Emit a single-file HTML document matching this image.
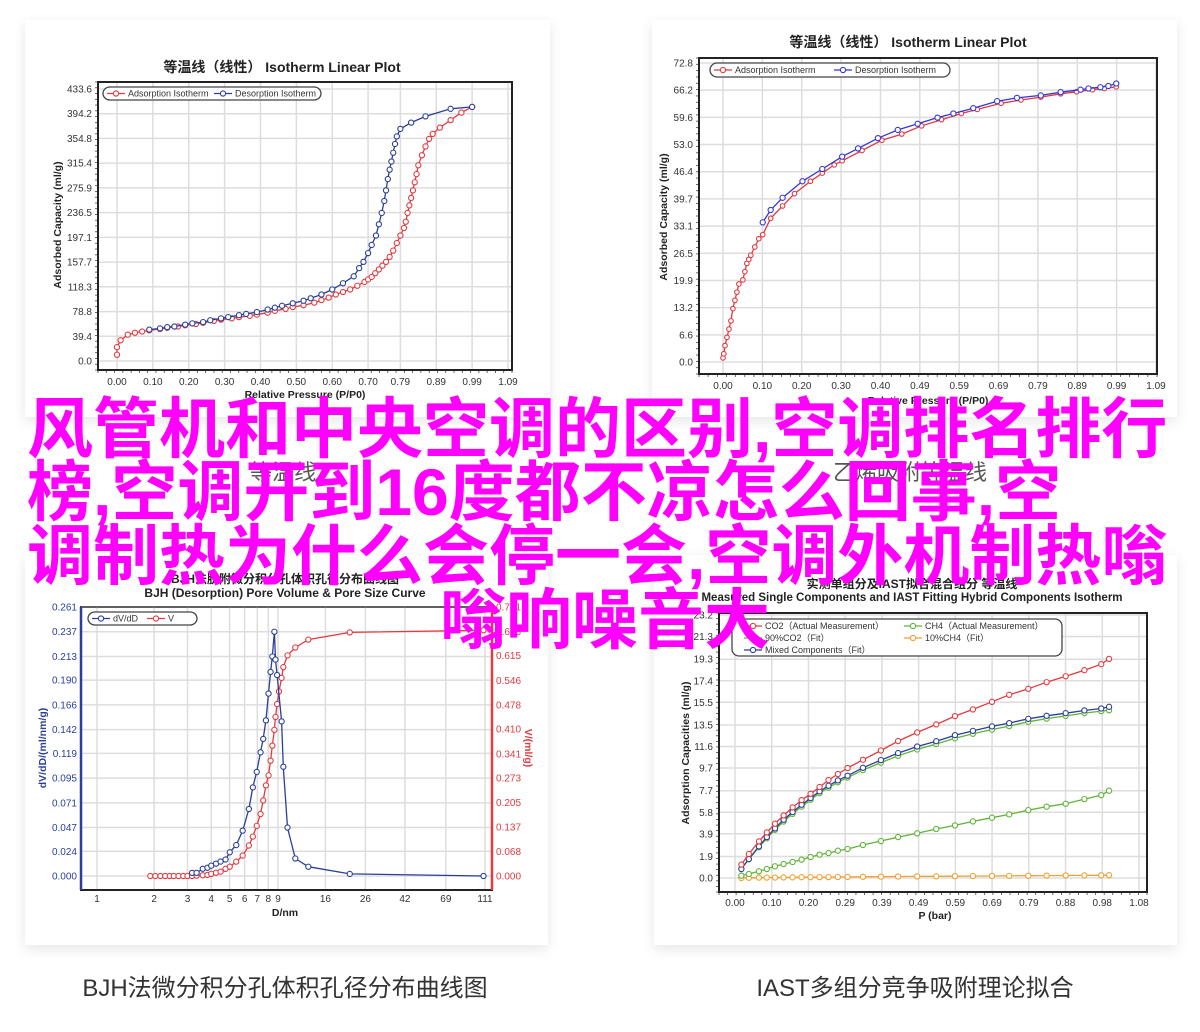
<!DOCTYPE html>
<html><head><meta charset="utf-8">
<style>
html,body{margin:0;padding:0;background:#fff;}
body{width:1200px;height:1032px;position:relative;overflow:hidden;font-family:"Liberation Sans","Noto Sans CJK SC",sans-serif;}
.card{position:absolute;background:#fff;box-shadow:0 4px 12px rgba(0,0,0,0.10);}
.cap{position:absolute;font-size:24px;color:#333;text-align:center;font-family:"Liberation Sans","Noto Sans CJK SC",sans-serif;white-space:nowrap;}
.mag{position:absolute;font-size:66px;line-height:66px;font-weight:bold;color:#ff00ff;white-space:nowrap;font-family:"Liberation Sans","Noto Sans CJK SC",sans-serif;}
svg{position:absolute;left:0;top:0;}
</style></head>
<body>
<div class="card" style="left:25px;top:20px;width:525px;height:397px;"></div>
<div class="card" style="left:652px;top:20px;width:525px;height:397px;"></div>
<div class="card" style="left:25px;top:555px;width:523px;height:390px;"></div>
<div class="card" style="left:654px;top:555px;width:523px;height:390px;"></div>
<div class="cap" style="left:133px;top:455px;width:300px;color:#555;font-size:22px;">等温线</div>
<div class="cap" style="left:760px;top:455px;width:300px;color:#555;font-size:22px;">乙烯吸附等温线</div>
<div class="cap" style="left:60px;top:968px;width:450px;">BJH法微分积分孔体积孔径分布曲线图</div>
<div class="cap" style="left:690px;top:968px;width:450px;">IAST多组分竞争吸附理论拟合</div>

<svg id="chart" width="1200" height="1032"></svg>

<div class="mag" style="left:27px;top:396px;">风管机和中央空调的区别,空调排名排行</div>
<div class="mag" style="left:27px;top:459px;">榜,空调开到16度都不凉怎么回事,空</div>
<div class="mag" style="left:27px;top:523px;">调制热为什么会停一会,空调外机制热嗡</div>
<div class="mag" style="left:440px;top:587px;">嗡响噪音大</div>

<script>
// ---- Chart A: isotherm linear plot (left) ----
const aXTicks=['0.00','0.10','0.20','0.30','0.40','0.50','0.60','0.70','0.79','0.89','0.99','1.09'];
const aYTicks=['0.0','39.4','78.8','118.3','157.7','197.1','236.5','275.9','315.4','354.8','394.2','433.6'];
const aAdsP=[0,0,0.01,0.03,0.05,0.07,0.09,0.12,0.14,0.17,0.19,0.22,0.24,0.27,0.29,0.32,0.34,0.37,0.39,0.42,0.44,0.47,0.49,0.52,0.55,0.57,0.59,0.61,0.63,0.65,0.67,0.69,0.70,0.71,0.72,0.73,0.74,0.75,0.76,0.77,0.78,0.79,0.80,0.805,0.81,0.815,0.82,0.825,0.83,0.835,0.84,0.85,0.86,0.87,0.88,0.90,0.93,0.96,0.99];
const aAdsV=[10,22,33,42,45,47,49,51,53,55,57,59,61,64,66,68,70,72,74,77,80,83,86,89,93,97,101,106,110,114,120,126,130,134,140,146,152,158,166,176,188,200,212,222,236,248,260,272,285,298,312,328,342,354,362,372,384,396,405];
const aDesP=[0.09,0.12,0.14,0.16,0.19,0.21,0.24,0.26,0.29,0.31,0.34,0.36,0.39,0.42,0.44,0.46,0.49,0.52,0.54,0.57,0.60,0.63,0.66,0.675,0.687,0.70,0.71,0.722,0.73,0.738,0.745,0.75,0.755,0.76,0.765,0.77,0.775,0.78,0.79,0.82,0.86,0.93,0.99];
const aDesV=[50,52,54,55,58,60,62,65,68,70,73,75,78,82,85,88,92,96,100,106,114,124,135,148,158,172,185,200,218,236,255,272,290,305,318,332,346,358,370,380,390,402,405];

// ---- Chart B: isotherm linear plot (right) ----
const bXTicks=['0.00','0.10','0.20','0.30','0.40','0.49','0.59','0.69','0.79','0.89','0.99','1.09'];
const bYTicks=['0.0','6.6','13.2','19.9','26.5','33.1','39.7','46.4','53.0','59.6','66.2','72.8'];
const bAdsP=[0,0.002,0.005,0.01,0.015,0.02,0.025,0.03,0.035,0.04,0.05,0.055,0.06,0.065,0.07,0.08,0.09,0.10,0.12,0.15,0.18,0.22,0.25,0.28,0.30,0.35,0.40,0.45,0.50,0.55,0.60,0.64,0.70,0.75,0.80,0.85,0.89,0.93,0.96,0.99];
const bAdsV=[1,2,4,6,8,10,13,15,17,19,20,22,24,25,26,28,30,31,35,38,41,44,46,48,49,51.5,54,55.5,57.5,59,60.5,61.5,63,63.8,64.5,65.3,65.8,66.3,66.6,67];
const bDesP=[0.10,0.12,0.15,0.20,0.25,0.30,0.34,0.39,0.44,0.49,0.54,0.58,0.63,0.69,0.74,0.80,0.85,0.90,0.92,0.95,0.97,0.99];
const bDesV=[34,37,40,44,47,50,52,54.5,56.5,58,59.5,60.5,61.8,63.5,64.3,64.9,65.7,66.3,66.6,66.9,67.2,67.8];

// ---- Chart C: BJH pore size (log x) ----
const cXTicks=[1,2,3,4,5,6,7,8,9,16,26,42,69,111];
const cYLeftTicks=['0.000','0.024','0.047','0.071','0.095','0.119','0.142','0.166','0.190','0.213','0.237','0.261'];
const cYRightTicks=['0.000','0.068','0.137','0.205','0.273','0.341','0.410','0.478','0.546','0.615','0.683','0.751'];
const cVD=[1.91,2.03,2.16,2.29,2.42,2.54,2.69,2.85,3.0,3.17,3.35,3.61,3.82,4.0,4.24,4.48,4.76,5.01,5.42,5.86,6.32,6.63,6.95,7.28,7.52,7.77,8.02,8.22,8.4,8.61,8.73,8.9,9.11,9.4,9.6,10.1,11.1,13.0,21.5,109];
const cV=[0,0,0,0,0,0,0,0,0,0,0.001,0.002,0.003,0.006,0.009,0.012,0.02,0.026,0.04,0.057,0.085,0.11,0.14,0.173,0.211,0.253,0.281,0.322,0.364,0.408,0.444,0.48,0.515,0.553,0.583,0.616,0.638,0.66,0.68,0.686];
const cDD=[3.17,3.35,3.61,3.82,4.0,4.24,4.48,4.76,5.01,5.42,5.86,6.32,6.63,6.95,7.28,7.52,7.77,8.02,8.22,8.4,8.61,8.73,8.9,9.4,9.6,10.1,11.1,13.0,21.5,109];
const cdV=[0.003,0.003,0.007,0.008,0.010,0.012,0.014,0.016,0.023,0.030,0.044,0.065,0.086,0.101,0.120,0.133,0.151,0.177,0.198,0.213,0.237,0.210,0.195,0.150,0.106,0.047,0.017,0.009,0.002,0.000];

// ---- Chart D: IAST ----
const dXTicks=['0.00','0.10','0.20','0.29','0.39','0.49','0.59','0.69','0.79','0.88','0.98','1.08'];
const dYTicks=['0.0','1.9','3.9','5.8','7.7','9.7','11.6','13.5','15.5','17.4','19.3','21.3','23.2'];
const dP=[0.017,0.037,0.064,0.085,0.107,0.130,0.154,0.178,0.202,0.226,0.250,0.275,0.301,0.342,0.390,0.436,0.487,0.538,0.588,0.636,0.687,0.733,0.784,0.833,0.884,0.934,0.979,1.0];
const dCO2=[1.18,2.12,3.23,4.02,4.79,5.52,6.23,6.87,7.43,8.02,8.64,9.17,9.70,10.43,11.25,12.08,12.84,13.55,14.28,14.87,15.54,16.16,16.69,17.27,17.80,18.33,18.86,19.33];
const dMixed=[0.79,1.67,2.79,3.61,4.38,5.14,5.82,6.46,7.05,7.64,8.14,8.61,9.02,9.72,10.40,11.02,11.60,12.07,12.60,12.98,13.37,13.66,14.04,14.31,14.54,14.78,14.95,15.10];
const dCO2Fit=[0.85,1.65,2.72,3.50,4.25,4.98,5.66,6.30,6.90,7.48,7.97,8.45,8.86,9.52,10.18,10.78,11.34,11.82,12.33,12.72,13.10,13.40,13.78,14.06,14.30,14.55,14.72,14.80];
const dCH4=[0.21,0.35,0.59,0.79,1.03,1.23,1.41,1.62,1.85,2.06,2.20,2.41,2.56,2.91,3.26,3.61,3.94,4.32,4.64,4.99,5.32,5.61,5.99,6.29,6.55,6.96,7.31,7.70];
const dCH4Fit=[0.0,0.02,0.03,0.04,0.04,0.05,0.06,0.07,0.07,0.08,0.08,0.09,0.10,0.11,0.12,0.13,0.14,0.15,0.16,0.17,0.18,0.19,0.20,0.21,0.22,0.23,0.24,0.25];

const NS='http://www.w3.org/2000/svg';
const svg=document.getElementById('chart');
function el(tag,attrs,parent){const e=document.createElementNS(NS,tag);for(const k in attrs)e.setAttribute(k,attrs[k]);(parent||svg).appendChild(e);return e;}
function txt(s,attrs,parent){const t=el('text',attrs,parent);t.textContent=s;return t;}

function lin(d0,d1,p0,p1){return v=>p0+(v-d0)*(p1-p0)/(d1-d0);}
function logx(p0,p1,dmax){return v=>p0+Math.log10(v)*(p1-p0)/Math.log10(dmax);}

function frame(g,f,name){
  const r=el('rect',{x:f.x0,y:f.y0,width:f.x1-f.x0,height:f.y1-f.y0,fill:'#fff',stroke:'#222','stroke-width':2},g);
  
  
}
function gridX(g,f,xs,fx,labels,ly,name){
  xs.forEach((v,i)=>{
    const x=fx(v);
    const l=el('line',{x1:x,x2:x,y1:f.y0,y2:f.y1,stroke:'#ddd','stroke-width':1.5},g);
    
    
    const t=txt(labels[i],{x:x,y:ly,'font-size':10,fill:'#333','text-anchor':'middle'},g);
    
    
  });
}
function gridY(g,f,ys,fy,labels,lx,name,color,anchor){
  ys.forEach((v,i)=>{
    const y=fy(v);
    const l=el('line',{x1:f.x0,x2:f.x1,y1:y,y2:y,stroke:'#ddd','stroke-width':1.5},g);
    
    
    const t=txt(labels[i],{x:lx,y:y+3.5,'font-size':10,fill:color||'#333','text-anchor':anchor||'end'},g);
    
    
  });
}
function minor(g,f,n){
  for(let i=0;i<=n;i++){const x=f.x0+(f.x1-f.x0)*i/n;el('line',{x1:x,x2:x,y1:f.y1,y2:f.y1+3,stroke:'#444','stroke-width':0.8},g);}
  for(let i=0;i<=n;i++){const y=f.y0+(f.y1-f.y0)*i/n;el('line',{x1:f.x0-3,x2:f.x0,y1:y,y2:y,stroke:'#444','stroke-width':0.8},g);}
}
function series(g,xs,ys,fx,fy,color,name,r){
  const pts=xs.map((x,i)=>fx(x).toFixed(1)+','+fy(ys[i]).toFixed(1)).join(' ');
  const pl=el('polyline',{points:pts,fill:'none',stroke:color,'stroke-width':1.3},g);
  
  
  xs.forEach((x,i)=>{
    const c=el('circle',{cx:fx(x),cy:fy(ys[i]),r:r||2.6,fill:'#fff',stroke:color,'stroke-width':1.1},g);
    
    
  });
}
function legendItem(g,x,y,color,label,name){
  el('line',{x1:x,x2:x+18,y1:y,y2:y,stroke:color,'stroke-width':1.3},g);
  el('circle',{cx:x+9,cy:y,r:2.6,fill:'#fff',stroke:color,'stroke-width':1.1},g);
  const t=txt(label,{x:x+21,y:y+3.2,'font-size':9,fill:'#333'},g);
  
  
}
function legendBox(g,x,y,w,h,name){
  const r=el('rect',{x:x,y:y,width:w,height:h,rx:7,fill:'#fff',stroke:'#444','stroke-width':1.3},g);
  
  
}
const RED='#e33a3f',BLUE='#2b3f99',BLUE2='#3535d8',GREEN='#5fb336',ORANGE='#f0a030';
const TF='"Liberation Sans","Noto Sans CJK SC",sans-serif';

// ===== Chart A =====
(function(){
  const g=el('g',{});
  
  
  const f={x0:98,x1:512,y0:82,y1:370};
  const fx=lin(0,1.09,117,508), fy=lin(0,433.6,361,89);
  frame(g,f,'plot-frame-a');
  gridX(g,f,aXTicks.map(Number),fx,aXTicks,385,'x-axis-a');
  gridY(g,f,aYTicks.map(Number),fy,aYTicks,92,'y-axis-a');
  minor(g,f,50);
  el('rect',{x:f.x0,y:f.y0,width:f.x1-f.x0,height:f.y1-f.y0,fill:'none',stroke:'#222','stroke-width':2},g);
  series(g,aAdsP,aAdsV,fx,fy,RED,'adsorption-a');
  series(g,aDesP,aDesV,fx,fy,BLUE,'desorption-a');
  legendBox(g,103,87,218,13,'legend-a');
  legendItem(g,107,93.5,RED,'Adsorption Isotherm','legend-entry-adsorption-a');
  legendItem(g,214,93.5,BLUE,'Desorption Isotherm','legend-entry-desorption-a');
  const t=txt('等温线（线性） Isotherm Linear Plot',{x:282,y:72,'font-size':14,'font-weight':'bold',fill:'#222','text-anchor':'middle','font-family':TF},g);
  
  
  const xt=txt('Relative Pressure (P/P0)',{x:305,y:398,'font-size':10.5,'font-weight':'bold',fill:'#222','text-anchor':'middle'},g);
  
  
  const yt=txt('Adsorbed Capacity (ml/g)',{x:0,y:0,'font-size':10.5,'font-weight':'bold',fill:'#222','text-anchor':'middle',transform:'translate(61,225) rotate(-90)'},g);
  
  
})();

// ===== Chart B =====
(function(){
  const g=el('g',{});
  
  
  const f={x0:699,x1:1157,y0:58,y1:374};
  const fx=lin(0,1.09,723,1156), fy=lin(0,72.8,362,63);
  frame(g,f,'plot-frame-b');
  gridX(g,f,bXTicks.map((s,i)=>i*1.09/11),fx,bXTicks,389,'x-axis-b');
  gridY(g,f,bYTicks.map((s,i)=>i*72.8/11),fy,bYTicks,693,'y-axis-b');
  minor(g,f,50);
  el('rect',{x:f.x0,y:f.y0,width:f.x1-f.x0,height:f.y1-f.y0,fill:'none',stroke:'#222','stroke-width':2},g);
  series(g,bAdsP,bAdsV,fx,fy,RED,'adsorption-b',2.3);
  series(g,bDesP,bDesV,fx,fy,BLUE2,'desorption-b');
  legendBox(g,710,63,240,14,'legend-b');
  legendItem(g,714,70,RED,'Adsorption Isotherm','legend-entry-adsorption-b');
  legendItem(g,834,70,BLUE2,'Desorption Isotherm','legend-entry-desorption-b');
  const t=txt('等温线（线性） Isotherm Linear Plot',{x:908,y:47,'font-size':14,'font-weight':'bold',fill:'#222','text-anchor':'middle','font-family':TF},g);
  
  
  const xt=txt('Relative Pressure (P/P0)',{x:928,y:404,'font-size':10.5,'font-weight':'bold',fill:'#222','text-anchor':'middle'},g);
  
  
  const yt=txt('Adsorbed Capacity (ml/g)',{x:0,y:0,'font-size':10.5,'font-weight':'bold',fill:'#222','text-anchor':'middle',transform:'translate(667,217) rotate(-90)'},g);
  
  
})();

// ===== Chart C =====
(function(){
  const g=el('g',{});
  
  
  const f={x0:81,x1:492,y0:607,y1:890};
  const fx=logx(97,485,111), fyL=lin(0,0.261,876,607), fyR=lin(0,0.751,876,607);
  frame(g,f,'plot-frame-c');
  gridX(g,f,cXTicks,fx,cXTicks.map(String),902,'x-axis-c');
  gridY(g,f,cYLeftTicks.map(Number),fyL,cYLeftTicks,77,'y-axis-left-c','#2b3f99');
  cYRightTicks.forEach((s,i)=>{
    const y=fyR(Number(s));
    const t=txt(s,{x:496,y:y+3.5,'font-size':10,fill:'#e33a3f'},g);
    
    
  });
  el('line',{x1:f.x0,x2:f.x1,y1:f.y1,y2:f.y1,stroke:'#222','stroke-width':2},g);
  el('line',{x1:f.x0,x2:f.x1,y1:f.y0,y2:f.y0,stroke:'#555','stroke-width':1.5},g);
  el('line',{x1:f.x0,x2:f.x0,y1:f.y0,y2:f.y1,stroke:'#2b3f99','stroke-width':2.5},g);
  el('line',{x1:f.x1,x2:f.x1,y1:f.y0,y2:f.y1,stroke:'#e33a3f','stroke-width':2.5},g);
  series(g,cVD,cV,fx,fyR,RED,'pore-volume');
  series(g,cDD,cdV,fx,fyL,BLUE,'dv-dd');
  legendBox(g,88,612,109,13,'legend-c');
  legendItem(g,92,618.5,BLUE,'dV/dD','legend-entry-dvdd');
  legendItem(g,147,618.5,RED,'V','legend-entry-v');
  const t1=txt('BJH法脱附微分积分孔体积孔径分布曲线图',{x:285,y:583,'font-size':12,'font-weight':'bold',fill:'#222','text-anchor':'middle','font-family':TF},g);
  
  
  const t2=txt('BJH (Desorption) Pore Volume & Pore Size Curve',{x:285,y:597,'font-size':12,'font-weight':'bold',fill:'#222','text-anchor':'middle'},g);
  
  
  const xt=txt('D/nm',{x:285,y:916,'font-size':10.5,'font-weight':'bold',fill:'#222','text-anchor':'middle'},g);
  
  
  const yl=txt('dV/dD/(ml/nm/g)',{x:0,y:0,'font-size':10.5,'font-weight':'bold',fill:'#2b3f99','text-anchor':'middle',transform:'translate(46,748) rotate(-90)'},g);
  
  
  const yr=txt('V/(ml/g)',{x:0,y:0,'font-size':10.5,'font-weight':'bold',fill:'#e33a3f','text-anchor':'middle',transform:'translate(525,748) rotate(90)'},g);
  
  
})();

// ===== Chart D =====
(function(){
  const g=el('g',{});
  
  
  const f={x0:719,x1:1147,y0:613,y1:892};
  const fx=lin(0,1.08,735,1139), fy=lin(0,23.2,878,615);
  frame(g,f,'plot-frame-d');
  gridX(g,f,dXTicks.map((s,i)=>i*1.08/11),fx,dXTicks,906,'x-axis-d');
  gridY(g,f,dYTicks.map(Number),fy,dYTicks,713,'y-axis-d');
  minor(g,f,50);
  el('rect',{x:f.x0,y:f.y0,width:f.x1-f.x0,height:f.y1-f.y0,fill:'none',stroke:'#222','stroke-width':2},g);
  series(g,dP,dCH4Fit,fx,fy,ORANGE,'ch4-fit');
  series(g,dP,dCH4,fx,fy,GREEN,'ch4-measured');
  series(g,dP,dCO2Fit,fx,fy,GREEN,'co2-fit');
  series(g,dP,dMixed,fx,fy,BLUE,'mixed-fit');
  series(g,dP,dCO2,fx,fy,RED,'co2-measured');
  legendBox(g,732,619,330,37,'legend-d');
  legendItem(g,744,626,RED,'CO2（Actual Measurement）','legend-entry-co2');
  legendItem(g,904,626,GREEN,'CH4（Actual Measurement）','legend-entry-ch4');
  legendItem(g,744,638,GREEN,'90%CO2（Fit）','legend-entry-co2-fit');
  legendItem(g,904,638,ORANGE,'10%CH4（Fit）','legend-entry-ch4-fit');
  legendItem(g,744,650,BLUE,'Mixed Components（Fit）','legend-entry-mixed');
  const t1=txt('实测单组分及IAST拟合混合组分 等温线',{x:912,y:588,'font-size':12,'font-weight':'bold',fill:'#222','text-anchor':'middle','font-family':TF},g);
  
  
  const t2=txt('Measured Single Components and IAST Fitting Hybrid Components Isotherm',{x:912,y:601,'font-size':11.5,'font-weight':'bold',fill:'#222','text-anchor':'middle'},g);
  
  
  const xt=txt('P (bar)',{x:935,y:919,'font-size':10.5,'font-weight':'bold',fill:'#222','text-anchor':'middle'},g);
  
  
  const yt=txt('Adsorption Capacities (ml/g)',{x:0,y:0,'font-size':10.5,'font-weight':'bold',fill:'#222','text-anchor':'middle',transform:'translate(689,753) rotate(-90)'},g);
  
  
})();
</script>
</body></html>
